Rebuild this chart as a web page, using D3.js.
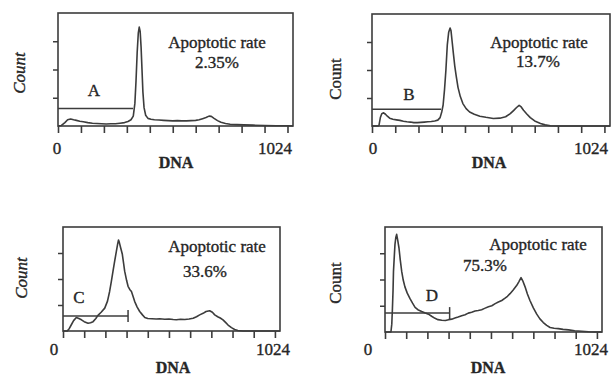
<!DOCTYPE html>
<html>
<head>
<meta charset="utf-8">
<script src="https://cdn.jsdelivr.net/npm/d3@7"></script>
<style>
  body { margin: 0; background: #fff; }
  svg { display: block; }
  text { font-family: "Liberation Serif", "Times New Roman", serif; fill: #262626; stroke: #262626; stroke-width: 0.35px; }
</style>
</head>
<body>
<svg id="chart" width="616" height="377"></svg>
<script>
// DNA content histograms (channel 0-1024, relative count)
const channelA = [0, 15, 30, 42, 55, 68, 80, 95, 110, 130, 150, 170, 190, 210, 230, 250, 270, 290, 305, 318, 328, 335, 340, 345, 350, 354, 358, 362, 366, 370, 375, 382, 392, 405, 420, 440, 460, 480, 500, 520, 540, 560, 580, 600, 615, 630, 645, 658, 668, 680, 695, 710, 730, 750, 780, 810, 850, 900, 950, 1000, 1024];
const countA = [0, 0.02, 0.12, 0.22, 0.25, 0.22, 0.2, 0.17, 0.15, 0.12, 0.1, 0.09, 0.08, 0.07, 0.08, 0.08, 0.1, 0.12, 0.16, 0.22, 0.35, 0.8, 1.6, 2.6, 3.3, 3.5, 3.35, 2.8, 2.0, 1.2, 0.65, 0.38, 0.27, 0.24, 0.22, 0.21, 0.2, 0.19, 0.18, 0.19, 0.18, 0.18, 0.19, 0.2, 0.22, 0.26, 0.3, 0.35, 0.34, 0.27, 0.19, 0.13, 0.09, 0.06, 0.05, 0.04, 0.03, 0.02, 0.01, 0.01, 0];

const channelB = [0, 25, 30, 36, 42, 50, 58, 66, 76, 90, 105, 120, 135, 150, 165, 180, 195, 210, 225, 240, 255, 270, 283, 293, 300, 306, 312, 318, 324, 330, 336, 340, 345, 350, 356, 362, 370, 380, 391, 405, 420, 440, 464, 490, 522, 550, 575, 595, 610, 622, 633, 642, 652, 665, 681, 700, 725, 745, 768, 800, 1024];
const countB = [0, 0, 0.02, 0.3, 0.44, 0.47, 0.42, 0.35, 0.28, 0.24, 0.22, 0.2, 0.17, 0.15, 0.14, 0.12, 0.12, 0.13, 0.14, 0.15, 0.16, 0.18, 0.21, 0.3, 0.5, 0.75, 1.3, 2.0, 2.9, 3.35, 3.5, 3.4, 3.0, 2.6, 2.15, 1.8, 1.38, 1.05, 0.8, 0.62, 0.5, 0.42, 0.35, 0.31, 0.27, 0.28, 0.33, 0.44, 0.56, 0.66, 0.74, 0.68, 0.56, 0.44, 0.3, 0.18, 0.09, 0.04, 0.01, 0, 0];

const channelC = [0, 20, 30, 40, 50, 63, 75, 87, 100, 118, 130, 142, 155, 165, 180, 197, 210, 220, 228, 236, 244, 252, 258, 262, 266, 272, 280, 286, 291, 300, 307, 315, 323, 330, 338, 350, 362, 375, 386, 400, 420, 440, 456, 480, 500, 520, 535, 555, 575, 595, 614, 630, 645, 661, 675, 692, 705, 716, 730, 742, 755, 767, 779, 795, 810, 825, 850, 1024];
const countC = [0, 0, 0.1, 0.25, 0.4, 0.52, 0.48, 0.43, 0.36, 0.3, 0.32, 0.36, 0.48, 0.6, 0.72, 0.88, 1.15, 1.52, 1.9, 2.3, 2.7, 3.07, 3.35, 3.5, 3.4, 3.2, 2.95, 2.6, 2.3, 1.95, 1.72, 1.6, 1.52, 1.35, 1.14, 0.92, 0.75, 0.62, 0.52, 0.48, 0.47, 0.46, 0.47, 0.45, 0.46, 0.44, 0.43, 0.45, 0.44, 0.46, 0.49, 0.55, 0.62, 0.68, 0.75, 0.78, 0.72, 0.62, 0.55, 0.5, 0.43, 0.33, 0.23, 0.13, 0.06, 0.02, 0, 0];

const channelD = [0, 28, 32, 35, 38, 40, 44, 47, 51, 55, 60, 66, 72, 79, 86, 94, 105, 118, 130, 142, 155, 173, 190, 205, 220, 236, 250, 268, 285, 300, 315, 330, 345, 362, 378, 393, 409, 425, 440, 456, 470, 488, 504, 520, 535, 551, 565, 578, 590, 605, 622, 632, 642, 650, 661, 672, 684, 700, 716, 731, 747, 763, 779, 798, 818, 840, 866, 895, 928, 960, 990, 1024];
const countD = [0, 0, 0.3, 0.88, 1.6, 2.3, 2.9, 3.33, 3.6, 3.72, 3.5, 3.2, 2.75, 2.3, 1.98, 1.72, 1.48, 1.27, 1.1, 0.94, 0.85, 0.78, 0.72, 0.68, 0.6, 0.52, 0.47, 0.45, 0.44, 0.47, 0.49, 0.53, 0.57, 0.62, 0.66, 0.72, 0.75, 0.8, 0.82, 0.85, 0.9, 0.96, 1.0, 1.08, 1.14, 1.2, 1.28, 1.36, 1.46, 1.6, 1.78, 1.92, 2.07, 1.95, 1.72, 1.45, 1.2, 0.92, 0.68, 0.5, 0.36, 0.25, 0.17, 0.14, 0.13, 0.1, 0.08, 0.05, 0.03, 0.01, 0, 0];

const panelLetters = ['A', 'B', 'C', 'D'];
const rateLabels = ['2.35%', '13.7%', '33.6%', '75.3%'];
const gateEnd = [327, 297, 307, 305];
const gateLevel = [0.62, 0.6, 0.58, 0.72];
const gateEndMark = [false, false, true, true];
const xTickValues = [0, 100, 200, 300, 400, 500, 600, 700, 800, 900, 1000];
const yTickValues = [1, 2, 3];
const xLabels = ['0', '1024'];

const channels = [channelA, channelB, channelC, channelD];
const counts = [countA, countB, countC, countD];

// page layout of each panel, in pixels
const layout = [
  { left: 58, right: 293, top: 13, bottom: 126, countX: 25, countY: 73, italic: true,
    rateX: 217, rateY: 48, valX: 217, valY: 68, letX: 94, letY: 96, zeroX: 57, oneX: 292, labY: 154, dnaX: 176, dnaY: 168 },
  { left: 372, right: 610, top: 14, bottom: 126, countX: 341, countY: 79, italic: false,
    rateX: 539, rateY: 48, valX: 538, valY: 67, letX: 409, letY: 100, zeroX: 373, oneX: 608, labY: 154, dnaX: 489, dnaY: 168 },
  { left: 63, right: 280, top: 227, bottom: 331, countX: 27, countY: 278, italic: true,
    rateX: 217, rateY: 252, valX: 205, valY: 277, letX: 79, letY: 303, zeroX: 54, oneX: 290, labY: 355, dnaX: 173, dnaY: 373 },
  { left: 385, right: 602, top: 227, bottom: 332, countX: 341, countY: 283, italic: false,
    rateX: 538, rateY: 250, valX: 485, valY: 271, letX: 432, letY: 301, zeroX: 368, oneX: 608, labY: 355, dnaX: 488, dnaY: 373 }
];

const svg = d3.select('#chart');
const ink = '#3c3c3c';

layout.forEach((p, i) => {
  const x = d3.scaleLinear().domain([0, 1024]).range([p.left, p.right]);
  const y = d3.scaleLinear().domain([0, 4]).range([p.bottom, p.top]);
  const g = svg.append('g');

  // frame
  g.append('rect')
    .attr('x', p.left).attr('y', p.top)
    .attr('width', p.right - p.left).attr('height', p.bottom - p.top)
    .attr('fill', 'none').attr('stroke', ink).attr('stroke-width', 1.6);

  // x ticks below the baseline
  g.append('g')
    .attr('transform', `translate(0,${p.bottom})`)
    .call(d3.axisBottom(x).tickValues(xTickValues).tickSize(7).tickFormat(''))
    .call(a => a.select('.domain').remove())
    .call(a => a.selectAll('line').attr('stroke', ink).attr('stroke-width', 1.6));

  // y ticks outside the left edge
  g.append('g')
    .attr('transform', `translate(${p.left},0)`)
    .call(d3.axisLeft(y).tickValues(yTickValues).tickSize(5).tickFormat(''))
    .call(a => a.select('.domain').remove())
    .call(a => a.selectAll('line').attr('stroke', ink).attr('stroke-width', 1.5));

  // histogram
  const pts = channels[i].map((c, k) => [c, counts[i][k]]);
  g.append('path')
    .datum(pts)
    .attr('d', d3.line().x(d => x(d[0])).y(d => y(d[1])))
    .attr('fill', 'none').attr('stroke', ink).attr('stroke-width', 1.6)
    .attr('stroke-linejoin', 'round');

  // sub-G1 gate marker
  g.append('line')
    .attr('x1', x(0)).attr('x2', x(gateEnd[i]))
    .attr('y1', y(gateLevel[i])).attr('y2', y(gateLevel[i]))
    .attr('stroke', ink).attr('stroke-width', 1.5);
  if (gateEndMark[i]) {
    g.append('line')
      .attr('x1', x(gateEnd[i])).attr('x2', x(gateEnd[i]))
      .attr('y1', y(gateLevel[i]) - 6).attr('y2', y(gateLevel[i]) + 6)
      .attr('stroke', ink).attr('stroke-width', 1.5);
  }

  // texts
  g.append('text').attr('x', p.letX).attr('y', p.letY)
    .attr('text-anchor', 'middle').attr('font-size', 17).text(panelLetters[i]);
  g.append('text').attr('x', p.rateX).attr('y', p.rateY)
    .attr('text-anchor', 'middle').attr('font-size', 17).text('Apoptotic rate');
  g.append('text').attr('x', p.valX).attr('y', p.valY)
    .attr('text-anchor', 'middle').attr('font-size', 17).text(rateLabels[i]);
  g.append('text').attr('x', p.zeroX).attr('y', p.labY)
    .attr('text-anchor', 'middle').attr('font-size', 17).text(xLabels[0]);
  g.append('text').attr('x', p.oneX).attr('y', p.labY)
    .attr('text-anchor', 'end').attr('font-size', 17).text(xLabels[1]);
  g.append('text').attr('x', p.dnaX).attr('y', p.dnaY)
    .attr('text-anchor', 'middle').attr('font-size', 16).attr('font-weight', 'bold').text('DNA');
  g.append('text')
    .attr('transform', `translate(${p.countX},${p.countY}) rotate(-90)`)
    .attr('text-anchor', 'middle').attr('font-size', 17)
    .attr('font-style', p.italic ? 'italic' : 'normal')
    .text('Count');
});
</script>
</body>
</html>
